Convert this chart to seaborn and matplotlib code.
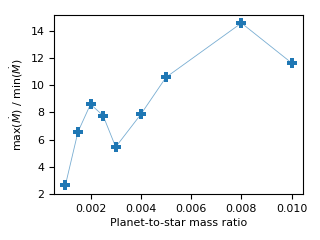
import matplotlib
matplotlib.use("Agg")
import matplotlib.pyplot as plt
import seaborn as sns
import pandas as pd

mass_ratio = [0.001, 0.0015, 0.002, 0.0025, 0.003, 0.004, 0.005, 0.008, 0.010]
mdot_ratio = [2.64, 6.56, 8.6, 7.75, 5.45, 7.85, 10.57, 14.56, 11.62]

df = pd.DataFrame({"q": mass_ratio, "r": mdot_ratio})

plt.rcParams["font.size"] = 7.9
fig = plt.figure(figsize=(3.2, 2.4), dpi=100)
ax = fig.add_axes([0.169, 0.192, 0.778, 0.746])
sns.lineplot(data=df, x="q", y="r", ax=ax, color="C0", linewidth=0.6, alpha=0.6)
sns.scatterplot(data=df, x="q", y="r", ax=ax, color="C0", marker="P", s=42, linewidth=0)
ax.set_xlabel("Planet-to-star mass ratio", labelpad=3)
ax.set_ylabel(r"max($\dot{M}$) / min($\dot{M}$)")
ax.set_xticks([0.002, 0.004, 0.006, 0.008, 0.010])
ax.set_xticklabels(["0.002", "0.004", "0.006", "0.008", "0.010"])
ax.set_yticks([2, 4, 6, 8, 10, 12, 14])
ax.set_xlim(0.00055, 0.01045)
ax.set_ylim(2.0, 15.16)
fig.savefig("out.png", dpi=100)
